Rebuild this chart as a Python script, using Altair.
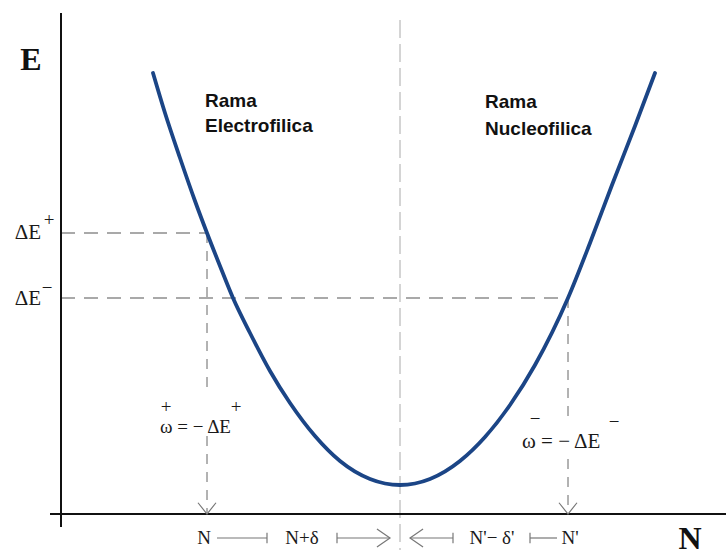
import altair as alt
import pandas as pd

# Energy curve E(N), sampled along both branches
curve_n = [92, 104, 119, 134, 146, 159, 172, 189, 209, 229, 254, 279, 309, 339,
           369, 399, 424, 449, 474, 507, 529, 551, 574, 594]
curve_e = [441, 401, 356, 313, 281, 248, 216, 181, 143, 111, 78, 53, 35, 29,
           35, 53, 77, 109, 149, 216, 271, 329, 388, 441]

# Energy levels and N positions
de_plus = 281
de_minus = 216
n_left = 146
n_mid = 339
n_right = 507

# Labels
branch_left = ["Rama", "Electrofilica"]
branch_right = ["Rama", "Nucleofilica"]
bottom_labels = ["N", "N+δ", "N'− δ'", "N'"]
bottom_label_n = [143, 241, 431, 509]

W, H = 726, 556
xs = alt.Scale(domain=[-61, 665], nice=False, zero=False)
ys = alt.Scale(domain=[-42, 514], nice=False, zero=False)


def X(f="n"):
    return alt.X(f"{f}:Q", scale=xs, axis=None)


def Y(f="e"):
    return alt.Y(f"{f}:Q", scale=ys, axis=None)


def segs(rows):
    return pd.DataFrame(rows, columns=["n", "e", "n2", "e2"])


def rules(df, **kw):
    return alt.Chart(df).mark_rule(**kw).encode(
        x=X(), y=Y(), x2="n2:Q", y2="e2:Q"
    )


def texts(rows, **kw):
    df = pd.DataFrame(rows, columns=["n", "e", "t"])
    return alt.Chart(df).mark_text(**kw).encode(x=X(), y=Y(), text="t:N")


def symbols(ns, es, shape, size):
    df = pd.DataFrame({"n": ns, "e": es})
    return alt.Chart(df).mark_point(
        shape=shape, size=size, filled=False, color="#777777", strokeWidth=1.2, opacity=1
    ).encode(x=X(), y=Y())


curve = pd.DataFrame({"n": curve_n, "e": curve_e})

# axes
axes = rules(segs([(0, -13, 0, 501), (-11, 0, 665, 0)]), color="#111111", strokeWidth=2)

# dashed guides
h_guides = rules(
    segs([(0, de_plus, n_left, de_plus), (0, de_minus, n_right, de_minus)]),
    color="#555555", strokeWidth=1.1, strokeDash=[14, 9],
)
v_guides = rules(
    segs([
        (n_left, de_plus, n_left, 126), (n_left, 78, n_left, 0),
        (n_right, de_minus, n_right, 98), (n_right, 55, n_right, 0),
    ]),
    color="#666666", strokeWidth=1, strokeDash=[10, 8],
)
mid_guide = rules(
    segs([(n_mid, 494, n_mid, -36)]),
    color="#aaaaaa", strokeWidth=1, strokeDash=[18, 6],
)

line = alt.Chart(curve).mark_line(
    color="#1b4586", strokeWidth=3.8, interpolate="monotone", strokeCap="round"
).encode(x=X(), y=Y())

# arrow heads on the N axis
vee = symbols([n_left, n_right], [0, 0], "M-1,-1.25L0,0L1,-1.25", 324)

# bottom span arrows
row_e = -24
spans = rules(
    segs([(156, row_e, 206, row_e), (276, row_e, 329, row_e),
          (349, row_e, 392, row_e), (469, row_e, 496, row_e)]),
    color="#777777", strokeWidth=1.2,
)
bars = symbols([206, 276, 392, 469], [row_e] * 4, "M0,-1L0,1", 110)
head_r = symbols([329], [row_e], "M-1.45,-1L0,0L-1.45,1", 324)
head_l = symbols([349], [row_e], "M1.45,-1L0,0L1.45,1", 324)

serif = "Liberation Serif"
bottom_text = texts(
    [(n, row_e, t) for n, t in zip(bottom_label_n, bottom_labels)],
    font=serif, fontSize=19, color="#1a1a1a", baseline="middle", align="center",
)
big_letters = texts(
    [(-30, 454, "E"), (629, -25, "N")],
    font=serif, fontSize=32, fontWeight="bold", color="#111111", baseline="middle", align="center",
)
delta_labels = texts(
    [(-33, de_plus, "ΔE"), (-33, de_minus - 1, "ΔE")],
    font=serif, fontSize=21, color="#1a1a1a", baseline="middle", align="center",
)
omega_left = texts(
    [(99, 87, "ω = − ΔE")],
    font=serif, fontSize=19, color="#1a1a1a", baseline="middle", align="left",
)
omega_right = texts(
    [(461, 72, "ω = − ΔE")],
    font=serif, fontSize=21, color="#1a1a1a", baseline="middle", align="left",
)
sups = texts(
    [(-12, 294, "+"), (-14, 226, "−"), (105, 107, "+"), (175, 107, "+"),
     (474, 95, "−"), (553, 92, "−")],
    font=serif, fontSize=19, color="#1a1a1a", baseline="middle", align="center",
)
branch_text = texts(
    [(144, 407, branch_left[0]), (144, 382, branch_left[1]),
     (424, 406, branch_right[0]), (424, 379, branch_right[1])],
    font="Liberation Sans", fontSize=19, fontWeight="bold", color="#111111",
    baseline="alphabetic", align="left",
)

chart = alt.layer(
    mid_guide, h_guides, v_guides, axes, vee, spans, bars, head_r, head_l,
    line, bottom_text, big_letters, delta_labels, omega_left, omega_right, sups, branch_text,
).properties(
    width=W, height=H, padding=0, autosize=alt.AutoSizeParams(type="none"),
    background="white",
).configure_view(stroke=None)

chart.save("out.html", embed_options={"renderer": "svg", "actions": False})
